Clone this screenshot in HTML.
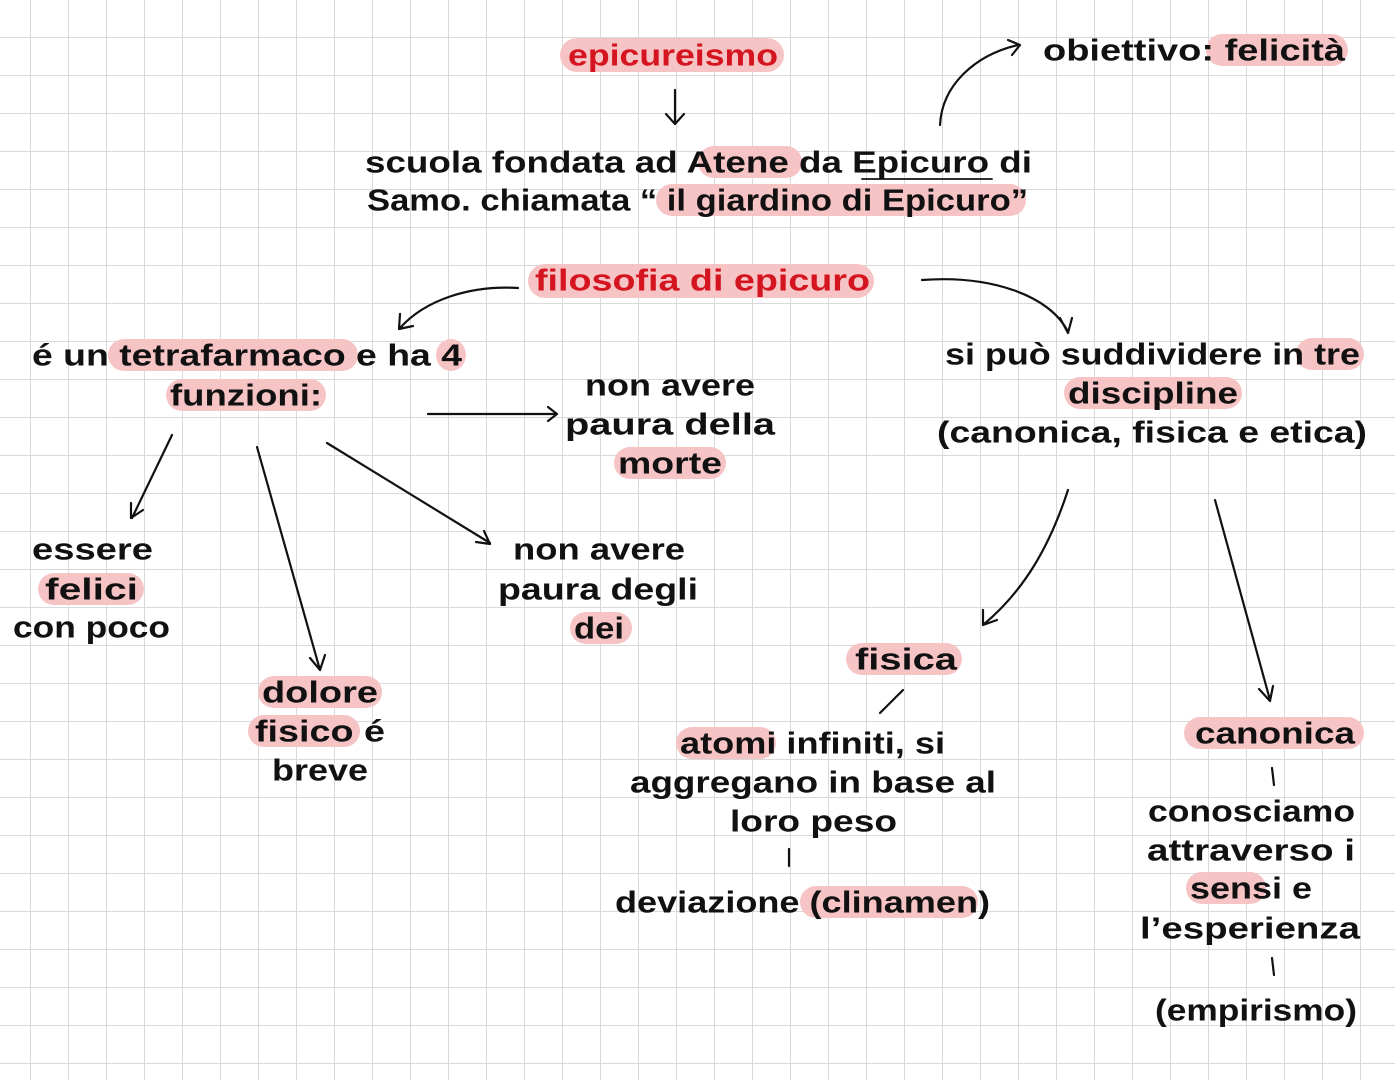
<!DOCTYPE html>
<html><head><meta charset="utf-8"><style>
html,body{margin:0;padding:0;background:#fff;}
svg{display:block}
text{font-family:"Liberation Sans",sans-serif;font-weight:bold;font-size:31px;fill:#111;dominant-baseline:central}
.r{fill:#d4141f}
.h{fill:#f7c4c6}
.l{stroke:#111;stroke-width:2.2;fill:none;stroke-linecap:round;stroke-linejoin:round}
</style></head><body>
<svg width="1395" height="1080" viewBox="0 0 1395 1080">
<defs>
<pattern id="g" x="30" y="37" width="38" height="38" patternUnits="userSpaceOnUse">
<path d="M0 0H38M0 0V38" stroke="#d9d9d9" stroke-width="2" fill="none"/>
</pattern>
</defs>
<rect width="1395" height="1080" fill="#fff"/>
<rect width="1395" height="1080" fill="url(#g)"/>

<g class="h">
<rect x="560" y="38" width="224" height="34" rx="17"/>
<rect x="1206" y="34" width="142" height="32" rx="16"/>
<rect x="698" y="146" width="104" height="32" rx="16"/>
<rect x="656" y="184" width="370" height="32" rx="16"/>
<rect x="528" y="264" width="346" height="34" rx="17"/>
<rect x="108" y="339" width="250" height="32" rx="16"/>
<rect x="436" y="339" width="30" height="32" rx="16"/>
<rect x="166" y="379" width="160" height="32" rx="16"/>
<rect x="614" y="447" width="112" height="32" rx="16"/>
<rect x="1296" y="338" width="68" height="32" rx="16"/>
<rect x="1064" y="377" width="178" height="32" rx="16"/>
<rect x="38" y="573" width="106" height="32" rx="16"/>
<rect x="570" y="612" width="62" height="32" rx="16"/>
<rect x="258" y="676" width="124" height="32" rx="16"/>
<rect x="248" y="715" width="112" height="32" rx="16"/>
<rect x="846" y="643" width="116" height="32" rx="16"/>
<rect x="676" y="727" width="100" height="32" rx="16"/>
<rect x="800" y="886" width="178" height="32" rx="16"/>
<rect x="1184" y="717" width="180" height="32" rx="16"/>
<rect x="1186" y="872" width="80" height="32" rx="16"/>
</g>

<g lengthAdjust="spacingAndGlyphs">
<text class="r" x="568" y="55" textLength="210" lengthAdjust="spacingAndGlyphs">epicureismo</text>
<text x="1043" y="50" textLength="302" lengthAdjust="spacingAndGlyphs">obiettivo: felicità</text>
<text x="365" y="162" textLength="667" lengthAdjust="spacingAndGlyphs">scuola fondata ad Atene da Epicuro di</text>
<text x="367" y="200" textLength="661" lengthAdjust="spacingAndGlyphs">Samo. chiamata “ il giardino di Epicuro”</text>
<text class="r" x="535" y="280" textLength="335" lengthAdjust="spacingAndGlyphs">filosofia di epicuro</text>
<text x="32" y="355" textLength="430" lengthAdjust="spacingAndGlyphs">é un tetrafarmaco e ha 4</text>
<text x="170" y="395" textLength="152" lengthAdjust="spacingAndGlyphs">funzioni:</text>
<text x="585" y="385" textLength="170" lengthAdjust="spacingAndGlyphs">non avere</text>
<text x="565" y="424" textLength="210" lengthAdjust="spacingAndGlyphs">paura della</text>
<text x="618" y="463" textLength="104" lengthAdjust="spacingAndGlyphs">morte</text>
<text x="32" y="549" textLength="121" lengthAdjust="spacingAndGlyphs">essere</text>
<text x="45" y="589" textLength="93" lengthAdjust="spacingAndGlyphs">felici</text>
<text x="13" y="627" textLength="157" lengthAdjust="spacingAndGlyphs">con poco</text>
<text x="513" y="549" textLength="172" lengthAdjust="spacingAndGlyphs">non avere</text>
<text x="498" y="589" textLength="200" lengthAdjust="spacingAndGlyphs">paura degli</text>
<text x="574" y="628" textLength="50" lengthAdjust="spacingAndGlyphs">dei</text>
<text x="262" y="692" textLength="116" lengthAdjust="spacingAndGlyphs">dolore</text>
<text x="255" y="731" textLength="130" lengthAdjust="spacingAndGlyphs">fisico é</text>
<text x="272" y="770" textLength="96" lengthAdjust="spacingAndGlyphs">breve</text>
<text x="855" y="659" textLength="102" lengthAdjust="spacingAndGlyphs">fisica</text>
<text x="1195" y="733" textLength="160" lengthAdjust="spacingAndGlyphs">canonica</text>
<text x="1148" y="811" textLength="207" lengthAdjust="spacingAndGlyphs">conosciamo</text>
<text x="1147" y="850" textLength="208" lengthAdjust="spacingAndGlyphs">attraverso i</text>
<text x="1190" y="888" textLength="122" lengthAdjust="spacingAndGlyphs">sensi e</text>
<text x="1140" y="928" textLength="220" lengthAdjust="spacingAndGlyphs">l’esperienza</text>
<text x="1155" y="1010" textLength="202" lengthAdjust="spacingAndGlyphs">(empirismo)</text>
<text x="680" y="743" textLength="265" lengthAdjust="spacingAndGlyphs">atomi infiniti, si</text>
<text x="630" y="782" textLength="366" lengthAdjust="spacingAndGlyphs">aggregano in base al</text>
<text x="730" y="821" textLength="167" lengthAdjust="spacingAndGlyphs">loro peso</text>
<text x="615" y="902" textLength="375" lengthAdjust="spacingAndGlyphs">deviazione (clinamen)</text>
<text x="1068" y="393" textLength="170" lengthAdjust="spacingAndGlyphs">discipline</text>
<text x="945" y="354" textLength="415" lengthAdjust="spacingAndGlyphs">si può suddividere in tre</text>
<text x="937" y="432" textLength="430" lengthAdjust="spacingAndGlyphs">(canonica, fisica e etica)</text>
</g>

<g class="l">
<path d="M862 179H992" stroke-width="1.8"/>
<path d="M675 90V123M666 114L675 124L684 114"/>
<path d="M940 125C942 85 975 55 1018 45M1008 40L1020 45L1012 55"/>
<path d="M518 288C470 285 425 300 400 328M400 314L399 329L413 326"/>
<path d="M922 280C990 275 1050 295 1068 332M1060 318L1068 333L1072 318"/>
<path d="M428 414H557M548 407L557 414L548 421"/>
<path d="M172 435L132 518M131 503L131 518L143 510"/>
<path d="M257 447L320 670M310 658L320 670L325 655"/>
<path d="M327 443L490 543M476 542L490 544L484 531"/>
<path d="M1068 490C1050 545 1025 590 983 625M983 610L983 625L997 620"/>
<path d="M1215 500L1270 700M1259 689L1270 701L1273 686"/>
<path d="M903 690L880 713"/>
<path d="M789 849V866"/>
<path d="M1272 768L1274 785"/>
<path d="M1272 958L1274 975"/>
</g>
</svg>
</body></html>
